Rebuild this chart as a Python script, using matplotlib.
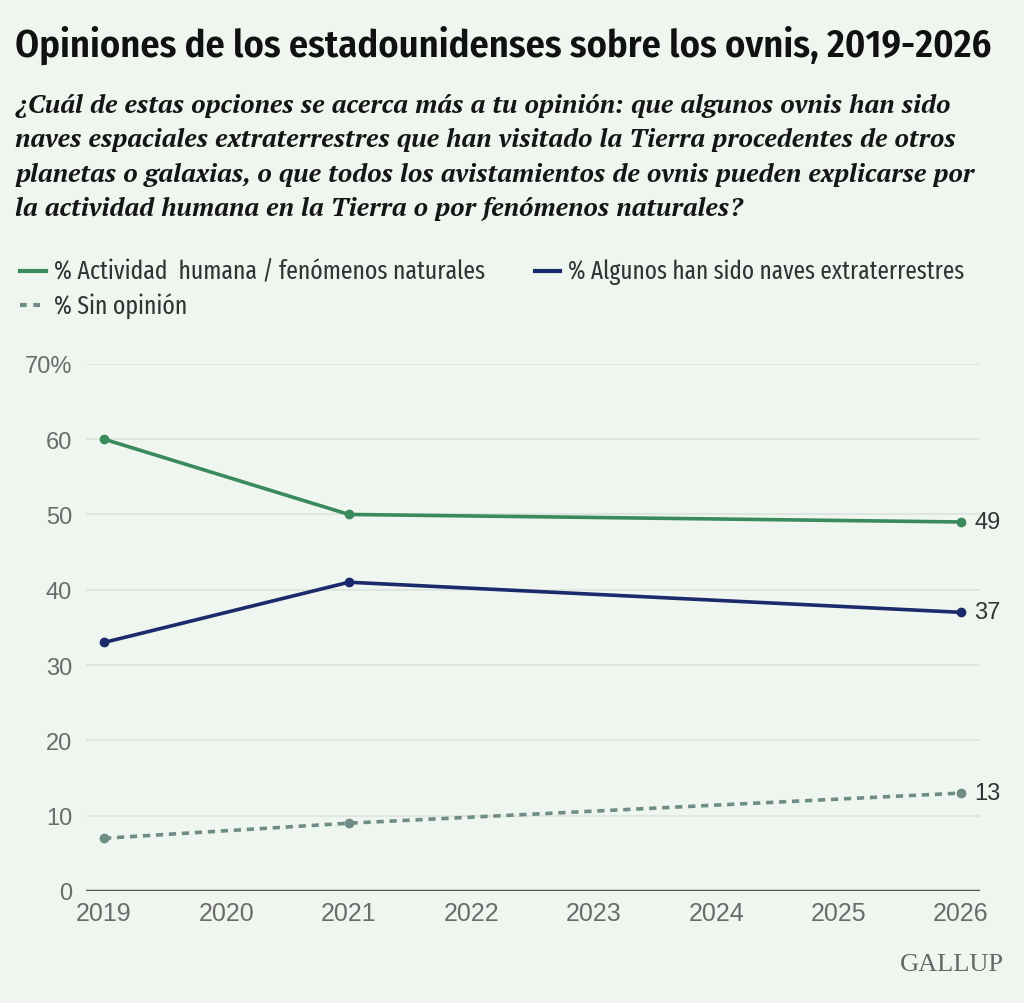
import matplotlib.pyplot as plt
import matplotlib.font_manager as fm

years = [2019, 2021, 2026]
humana = [60, 50, 49]
extraterrestres = [33, 41, 37]
sin_opinion = [7, 9, 13]
x_ticks = [2019, 2020, 2021, 2022, 2023, 2024, 2025, 2026]
y_ticks = [0, 10, 20, 30, 40, 50, 60, 70]
y_labels = ['0', '10', '20', '30', '40', '50', '60', '70%']

title = 'Opiniones de los estadounidenses sobre los ovnis, 2019-2026'
question = ['¿Cuál de estas opciones se acerca más a tu opinión: que algunos ovnis han sido',
            'naves espaciales extraterrestres que han visitado la Tierra procedentes de otros',
            'planetas o galaxias, o que todos los avistamientos de ovnis pueden explicarse por',
            'la actividad humana en la Tierra o por fenómenos naturales?']
labels = ['% Actividad  humana / fenómenos naturales',
          '% Algunos han sido naves extraterrestres',
          '% Sin opinión']

names = {f.name for f in fm.fontManager.ttflist}

def pick(*cands):
    for c in cands:
        if c in names:
            return c
    return 'DejaVu Sans'

f_title = pick('Fira Sans Condensed', 'Roboto Condensed', 'Barlow Semi Condensed', 'Roboto')
f_legend = pick('Fira Sans Extra Condensed', 'Fira Sans Condensed', 'Roboto Condensed', 'Roboto')
f_serif = pick('PT Serif', 'Gelasio', 'Noto Serif', 'Liberation Serif')
f_num = pick('Liberation Sans', 'Roboto')

bg = '#eff5ef'
green = '#3a8a5c'
navy = '#1b2a6b'
grey = '#6f8c86'

fig = plt.figure(figsize=(10.24, 10.04), dpi=100, facecolor=bg)
renderer = fig.canvas.get_renderer()

def fit(t, width_px):
    w = t.get_window_extent(renderer).width
    t.set_fontsize(t.get_fontsize() * width_px / w)

ax = fig.add_axes([0.084, 0.1116, 0.873, 0.525], facecolor=bg)

ax.plot(years, humana, color=green, lw=2.6, marker='o', ms=6, zorder=3)
ax.plot(years, extraterrestres, color=navy, lw=2.6, marker='o', ms=6, zorder=3)
ax.plot(years, sin_opinion, color=grey, lw=2.6, ls=(0, (2, 1.6)), marker='o', ms=6, zorder=3)

for vals in (humana, extraterrestres, sin_opinion):
    ax.text(years[-1] + 0.11, vals[-1], str(vals[-1]), fontsize=17, color='#333333',
            va='center', ha='left', family=f_num)

ax.set_xlim(2018.853, 2026.155)
ax.set_ylim(0, 70)
ax.set_yticks(y_ticks)
ax.set_yticklabels(y_labels, family=f_num, fontsize=17, color='#6b6b6b')
ax.set_xticks(x_ticks)
ax.set_xticklabels([str(t) for t in x_ticks], family=f_num, fontsize=18, color='#6b6b6b')
ax.tick_params(length=0)
ax.tick_params(axis='x', pad=7)
ax.tick_params(axis='y', pad=10)
ax.grid(axis='y', color='#dce3dd', lw=1.2)
ax.set_axisbelow(True)
for s in ax.spines.values():
    s.set_visible(False)
ax.axhline(0, color='#555a57', lw=2.5, zorder=2)

# title and question
t = fig.text(0.015, 0.955, title, family=f_title, weight='semibold', fontsize=28,
             va='center', ha='left', color='#111111')
fit(t, 975)
q_lines = []
for i, line in enumerate(question):
    q_lines.append(fig.text(0.015, 1 - (103 + 34.6 * i) / 1004, line, family=f_serif,
                            style='italic', weight='bold', fontsize=18,
                            va='center_baseline', ha='left', color='#151515'))
w3 = q_lines[2].get_window_extent(renderer).width
for ql in q_lines:
    ql.set_fontsize(18 * 960 / w3)

# legend
def legend_item(x, y, color, label, width_px, dashed=False):
    ls = (0, (1.6, 1.6)) if dashed else '-'
    fig.lines.append(plt.Line2D([x, x + 0.025], [y, y], transform=fig.transFigure,
                                color=color, lw=3, ls=ls))
    lt = fig.text(x + 0.033, y, label, family=f_legend, fontsize=17,
                  va='center', ha='left', color='#333333')
    fit(lt, width_px)

legend_item(0.020, 0.729, green, labels[0], 433)
legend_item(0.522, 0.729, navy, labels[1], 395)
legend_item(0.020, 0.695, grey, labels[2], 134, dashed=True)

fig.text(0.980, 0.039, 'GALLUP', family='Liberation Serif', fontsize=19, color='#666666',
         ha='right', va='center')

fig.savefig('out.png', dpi=100, facecolor=bg)
